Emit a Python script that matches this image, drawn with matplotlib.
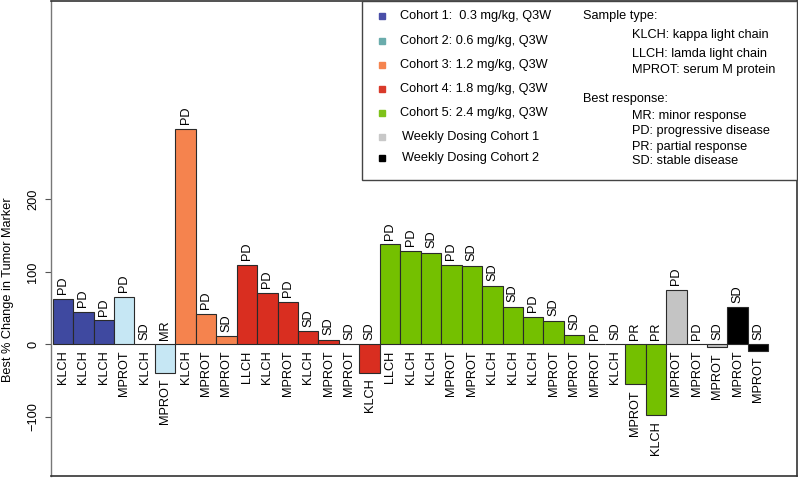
import numpy as np
import matplotlib.pyplot as plt
from matplotlib.patches import Rectangle

plt.rcParams['font.family'] = ['Liberation Sans', 'DejaVu Sans']

W, H = 798, 478

# one entry per patient bar, left to right
sample = ['KLCH', 'KLCH', 'KLCH', 'MPROT', 'KLCH', 'MPROT',
          'KLCH', 'MPROT', 'MPROT',
          'LLCH', 'KLCH', 'MPROT', 'KLCH', 'MPROT', 'MPROT', 'KLCH',
          'LLCH', 'KLCH', 'KLCH', 'MPROT', 'MPROT', 'KLCH', 'KLCH', 'KLCH',
          'MPROT', 'MPROT', 'MPROT', 'KLCH', 'MPROT', 'KLCH',
          'MPROT', 'MPROT', 'MPROT', 'MPROT', 'MPROT']
response = ['PD', 'PD', 'PD', 'PD', 'SD', 'MR',
            'PD', 'PD', 'SD',
            'PD', 'PD', 'PD', 'SD', 'SD', 'SD', 'SD',
            'PD', 'PD', 'SD', 'PD', 'SD', 'SD', 'SD', 'PD',
            'SD', 'SD', 'PD', 'SD', 'PR', 'PR',
            'PD', 'PD', 'SD', 'SD', 'SD']
change = [63, 45, 33, 66, 0, -39,
          297, 42, 11,
          110, 71, 59, 18, 6, 0, -39,
          138, 129, 126, 110, 108, 81, 52, 38,
          32, 13, 0, 0, -55, -98,
          75, 0, -4, 51, -9]
cohort = [0, 0, 0, 1, 1, 1,
          2, 2, 2,
          3, 3, 3, 3, 3, 3, 3,
          4, 4, 4, 4, 4, 4, 4, 4, 4, 4, 4, 4, 4, 4,
          5, 5, 5, 6, 6]

cohort_names = ['Cohort 1:  0.3 mg/kg, Q3W', 'Cohort 2: 0.6 mg/kg, Q3W',
                'Cohort 3: 1.2 mg/kg, Q3W', 'Cohort 4: 1.8 mg/kg, Q3W',
                'Cohort 5: 2.4 mg/kg, Q3W', 'Weekly Dosing Cohort 1',
                'Weekly Dosing Cohort 2']
bar_colors = ['#3f49a0', '#c6e7f4', '#f5834e', '#d92e20', '#74c000', '#c4c4c4', '#000000']
legend_colors = ['#4a4fa8', '#6aacac', '#f5844f', '#d93a2a', '#7fc21a', '#c8c8c8', '#000000']

sample_notes = ['KLCH: kappa light chain', 'LLCH: lamda light chain', 'MPROT: serum M protein']
response_notes = ['MR: minor response', 'PD: progressive disease',
                  'PR: partial response', 'SD: stable disease']

fig = plt.figure(figsize=(W / 100, H / 100), dpi=100)
ax = fig.add_axes([51 / W, 2 / H, 746 / W, 475 / H])

x = np.arange(len(change))
cols = [bar_colors[c] for c in cohort]
ax.bar(x, change, width=1, align='edge', color=cols, edgecolor='#2a2a2a', linewidth=0.8)

fs = 9.2
for xi, v, s, r in zip(x, change, sample, response):
    base = min(v, 0)
    top = max(v, 0)
    ax.annotate(s, (xi + 0.5, base), xytext=(0, -4.3), textcoords='offset points',
                rotation=90, ha='center', va='top', fontsize=fs)
    ax.annotate(r, (xi + 0.5, top), xytext=(0, 3.4), textcoords='offset points',
                rotation=90, ha='center', va='bottom', fontsize=fs)

ax.set_xlim(-0.08, 36.4)
ax.set_ylim(-181.8, 474)
ax.set_xticks([])
ax.set_yticks([-100, 0, 100, 200])
ax.tick_params(axis='y', length=4.5, width=0.8, color='#555555', labelsize=fs, pad=4)
for lab in ax.get_yticklabels():
    lab.set_rotation(90)
    lab.set_va('center')
for side in ['top', 'right', 'bottom']:
    ax.spines[side].set_color('#333333')
    ax.spines[side].set_linewidth(1.2)
ax.spines['left'].set_color('#777777')
ax.spines['left'].set_linewidth(1.0)

def fp(px, py):
    return px / W, 1 - py / H

fig.text(*fp(8, 290), 'Best % Change in Tumor Marker', rotation=90,
         ha='center', va='center', fontsize=fs)

# legend box
x0, y0 = fp(362, 180)
fig.patches.append(Rectangle((x0, y0), (797 - 362) / W, 179 / H, transform=fig.transFigure,
                             facecolor='white', edgecolor='#444444', linewidth=1.0, zorder=5))
rows = [16, 41.3, 65, 89.3, 113.3, 136.7, 157.7]
for i, (name, c, ry) in enumerate(zip(cohort_names, legend_colors, rows)):
    mx, my = fp(381.7, ry)
    fig.lines.append(plt.Line2D([mx], [my], marker='s', markersize=4.2, color=c,
                                linestyle='none', transform=fig.transFigure, zorder=6))
    tx = 400 if i < 5 else 401.7
    fig.text(*fp(tx, ry), name, ha='left', va='center', fontsize=9.2, zorder=6)

fig.text(*fp(582.7, 16), 'Sample type:', ha='left', va='center', fontsize=9.2, zorder=6)
for txt, ry in zip(sample_notes, [35.3, 54.3, 70.3]):
    fig.text(*fp(631.7, ry), txt, ha='left', va='center', fontsize=9.2, zorder=6)
fig.text(*fp(582.7, 98.7), 'Best response:', ha='left', va='center', fontsize=9.2, zorder=6)
for txt, ry in zip(response_notes, [116, 131, 146.7, 160.7]):
    fig.text(*fp(631.7, ry), txt, ha='left', va='center', fontsize=9.2, zorder=6)

fig.savefig('out.png', dpi=100)
